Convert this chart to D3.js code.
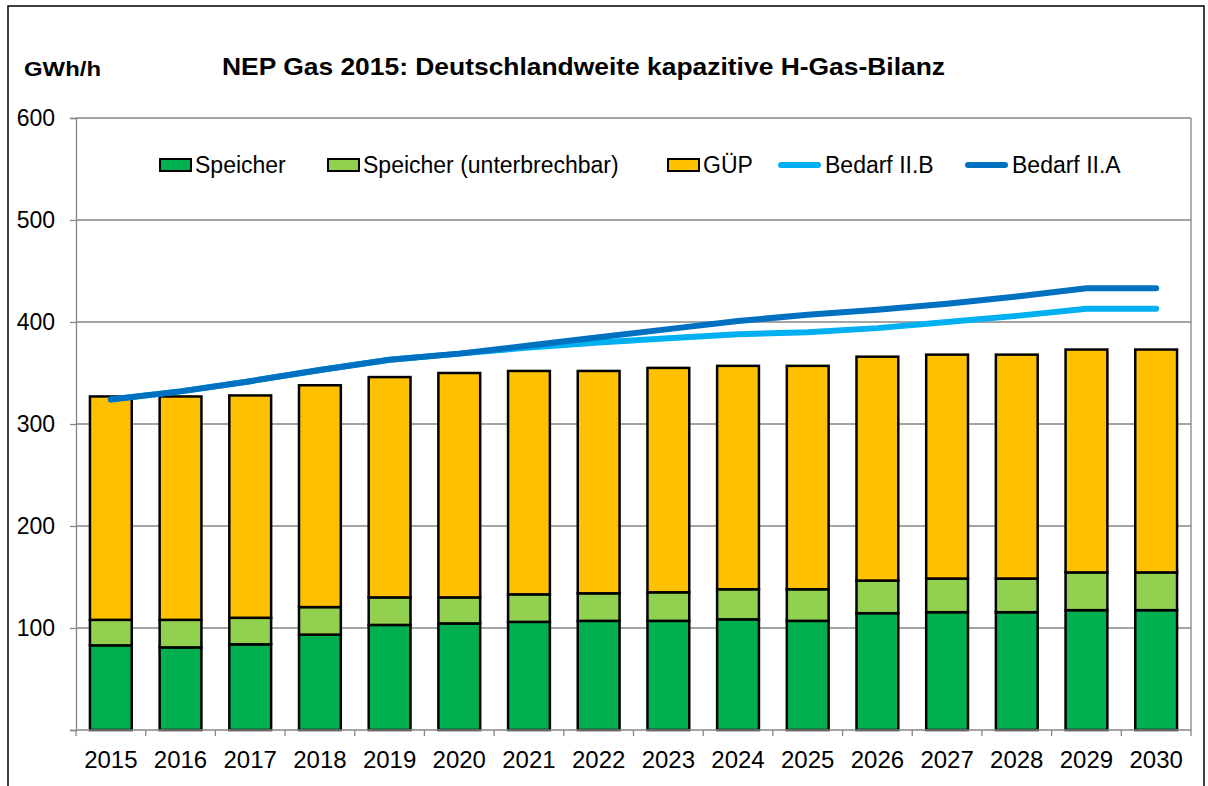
<!DOCTYPE html>
<html>
<head>
<meta charset="utf-8">
<script src="https://cdn.jsdelivr.net/npm/d3@7"></script>
<style>
  body { margin: 0; background: #fff; }
  text { font-family: "Liberation Sans", Arial, sans-serif; }
</style>
</head>
<body>
<div id="container"></div>
<script>
/* DATA */
const years = ["2015","2016","2017","2018","2019","2020","2021","2022","2023","2024","2025","2026","2027","2028","2029","2030"];
const speicher = [83, 81, 84, 93.5, 103, 104.5, 106, 107, 107, 108.5, 107, 114.5, 115.5, 115.5, 117.5, 117.5];
const speicherUnterbrechbar = [25, 27, 26, 27, 27, 25.5, 27, 27, 28, 29.5, 31, 32, 33, 33, 37, 37];
const guep = [219, 219, 218, 217.5, 216, 220, 219, 218, 220, 219, 219, 219.5, 219.5, 219.5, 218.5, 218.5];
const bedarfIIB = [324, 332, 342, 353, 363, 369, 375, 380, 384, 388, 390, 394, 400, 406, 413, 413];
const bedarfIIA = [324, 332, 342, 353, 363, 369, 377, 385, 393, 401, 407, 412, 418, 425, 433, 433];
const yTicks = [100, 200, 300, 400, 500, 600];

/* CONSTANTS AND GLOBALS */
const width = 1208, height = 786;
const margin = { top: 118, bottom: 56, left: 76, right: 17 };

const svg = d3.select("#container")
  .append("svg")
  .attr("width", width)
  .attr("height", height);

// outer frame
svg.append("rect")
  .attr("x", 8).attr("y", 6)
  .attr("width", 1196).attr("height", 800)
  .attr("fill", "none")
  .attr("stroke", "#000")
  .attr("stroke-width", 1.5);

/* SCALES */
const xScale = d3.scaleBand()
  .domain(years)
  .range([margin.left, width - margin.right])
  .paddingInner(0.4)
  .paddingOuter(0.2);

const yScale = d3.scaleLinear()
  .domain([0, 600])
  .range([height - margin.bottom, margin.top]);

// gridlines
svg.append("g")
  .selectAll("line")
  .data(yTicks)
  .join("line")
  .attr("x1", margin.left)
  .attr("x2", width - margin.right)
  .attr("y1", d => yScale(d))
  .attr("y2", d => yScale(d))
  .attr("stroke", "#868686")
  .attr("stroke-width", 1.3);

// right border
svg.append("line")
  .attr("x1", width - margin.right).attr("x2", width - margin.right)
  .attr("y1", yScale(600)).attr("y2", yScale(0))
  .attr("stroke", "#868686")
  .attr("stroke-width", 1.3);

/* STACKED BARS */
const rows = years.map((y, i) => ({
  year: y,
  speicher: speicher[i],
  unterbrechbar: speicherUnterbrechbar[i],
  guep: guep[i]
}));
const keys = ["speicher", "unterbrechbar", "guep"];
const colors = { speicher: "#00B050", unterbrechbar: "#92D050", guep: "#FFC000" };
const stacked = d3.stack().keys(keys)(rows);

svg.append("g")
  .selectAll("g")
  .data(stacked)
  .join("g")
  .attr("fill", d => colors[d.key])
  .selectAll("rect")
  .data(d => d)
  .join("rect")
  .attr("x", d => xScale(d.data.year))
  .attr("width", xScale.bandwidth())
  .attr("y", d => yScale(d[1]))
  .attr("height", d => yScale(d[0]) - yScale(d[1]))
  .attr("stroke", "#000")
  .attr("stroke-width", 2.5);

/* AXES */
const yAxis = d3.axisLeft(yScale)
  .tickValues([0].concat(yTicks))
  .tickSize(6)
  .tickFormat(d => d === 0 ? "" : d);

svg.append("g")
  .attr("transform", `translate(${margin.left},0)`)
  .call(yAxis)
  .call(g => g.select(".domain").attr("stroke", "#868686").attr("stroke-width", 1.3))
  .call(g => g.selectAll(".tick line").attr("stroke", "#868686").attr("stroke-width", 1.3))
  .call(g => g.selectAll(".tick text")
    .attr("x", -21)
    .attr("fill", "#000")
    .style("font-size", "23px")
    .style("font-family", "'Liberation Sans', Arial, sans-serif"));

// x axis baseline and category separators
const bounds = d3.range(years.length + 1).map(i => margin.left + i * (width - margin.left - margin.right) / years.length);
const xg = svg.append("g");
xg.append("line")
  .attr("x1", margin.left).attr("x2", width - margin.right)
  .attr("y1", yScale(0)).attr("y2", yScale(0))
  .attr("stroke", "#868686").attr("stroke-width", 1.3);
xg.selectAll("line.sep")
  .data(bounds)
  .join("line")
  .attr("class", "sep")
  .attr("x1", d => d).attr("x2", d => d)
  .attr("y1", yScale(0)).attr("y2", yScale(0) + 6)
  .attr("stroke", "#868686").attr("stroke-width", 1.3);
xg.selectAll("text")
  .data(years)
  .join("text")
  .attr("x", d => xScale(d) + xScale.bandwidth() / 2)
  .attr("y", yScale(0) + 38)
  .attr("text-anchor", "middle")
  .style("font-size", "24px")
  .text(d => d);

/* LINES */
const line = d3.line()
  .x((d, i) => xScale(years[i]) + xScale.bandwidth() / 2)
  .y(d => yScale(d));

svg.append("path")
  .datum(bedarfIIB)
  .attr("d", line)
  .attr("fill", "none")
  .attr("stroke", "#00B0F0")
  .attr("stroke-width", 6)
  .attr("stroke-linecap", "round")
  .attr("stroke-linejoin", "round");

svg.append("path")
  .datum(bedarfIIA)
  .attr("d", line)
  .attr("fill", "none")
  .attr("stroke", "#0070C0")
  .attr("stroke-width", 6)
  .attr("stroke-linecap", "round")
  .attr("stroke-linejoin", "round");

/* TITLES */
svg.append("text")
  .attr("x", 222)
  .attr("y", 75)
  .attr("textLength", 723)
  .attr("lengthAdjust", "spacingAndGlyphs")
  .style("font-size", "24px")
  .style("font-weight", "bold")
  .text("NEP Gas 2015: Deutschlandweite kapazitive H-Gas-Bilanz");

svg.append("text")
  .attr("x", 24)
  .attr("y", 76)
  .attr("textLength", 77)
  .attr("lengthAdjust", "spacingAndGlyphs")
  .style("font-size", "21px")
  .style("font-weight", "bold")
  .text("GWh/h");

/* LEGEND */
const legendItems = [
  { label: "Speicher", type: "rect", color: "#00B050", x: 160 },
  { label: "Speicher (unterbrechbar)", type: "rect", color: "#92D050", x: 328 },
  { label: "GÜP", type: "rect", color: "#FFC000", x: 668 },
  { label: "Bedarf II.B", type: "line", color: "#00B0F0", x: 778 },
  { label: "Bedarf II.A", type: "line", color: "#0070C0", x: 965 }
];
const legendY = 165;
const lg = svg.append("g");
legendItems.forEach(it => {
  if (it.type === "rect") {
    lg.append("rect")
      .attr("x", it.x).attr("y", legendY - 6)
      .attr("width", 31).attr("height", 12)
      .attr("fill", it.color)
      .attr("stroke", "#000").attr("stroke-width", 2);
  } else {
    lg.append("line")
      .attr("x1", it.x + 3).attr("x2", it.x + 40)
      .attr("y1", legendY).attr("y2", legendY)
      .attr("stroke", it.color).attr("stroke-width", 6)
      .attr("stroke-linecap", "round");
  }
  lg.append("text")
    .attr("x", it.type === "rect" ? it.x + 35 : it.x + 47)
    .attr("y", legendY + 8)
    .style("font-size", "23px")
    .text(it.label);
});
</script>
</body>
</html>
